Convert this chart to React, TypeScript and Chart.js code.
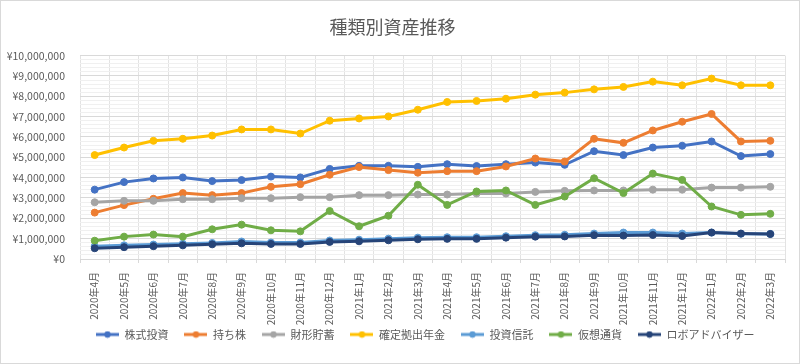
import React, { useEffect, useRef } from 'react';
import { Chart, registerables } from 'chart.js';

Chart.register(...registerables);

const categories = [
  '2020年4月', '2020年5月', '2020年6月', '2020年7月', '2020年8月', '2020年9月',
  '2020年10月', '2020年11月', '2020年12月', '2021年1月', '2021年2月', '2021年3月',
  '2021年4月', '2021年5月', '2021年6月', '2021年7月', '2021年8月', '2021年9月',
  '2021年10月', '2021年11月', '2021年12月', '2022年1月', '2022年2月', '2022年3月',
];

const seriesNames = ['株式投資', '持ち株', '財形貯蓄', '確定拠出年金', '投資信託', '仮想通貨', 'ロボアドバイザー'];
const seriesColors = ['#4472C4', '#ED7D31', '#A5A5A5', '#FFC000', '#5B9BD5', '#70AD47', '#264478'];

const stockValues = [3410000, 3780000, 3960000, 4010000, 3830000, 3880000, 4050000, 4010000, 4430000, 4580000, 4580000, 4530000, 4660000, 4570000, 4660000, 4740000, 4630000, 5300000, 5110000, 5480000, 5570000, 5780000, 5060000, 5160000];
const mochikabuValues = [2280000, 2650000, 2960000, 3240000, 3140000, 3240000, 3550000, 3680000, 4140000, 4520000, 4370000, 4240000, 4320000, 4320000, 4550000, 4940000, 4790000, 5910000, 5710000, 6320000, 6750000, 7130000, 5780000, 5810000];
const zaikeiValues = [2790000, 2860000, 2860000, 2940000, 2940000, 2990000, 2990000, 3040000, 3040000, 3140000, 3140000, 3170000, 3170000, 3220000, 3220000, 3300000, 3350000, 3370000, 3370000, 3410000, 3410000, 3510000, 3510000, 3550000];
const kakuteiValues = [5110000, 5480000, 5810000, 5910000, 6070000, 6370000, 6370000, 6170000, 6800000, 6910000, 7010000, 7340000, 7720000, 7770000, 7880000, 8080000, 8180000, 8340000, 8460000, 8720000, 8540000, 8870000, 8540000, 8540000];
const toushinValues = [630000, 670000, 710000, 750000, 790000, 860000, 810000, 810000, 910000, 950000, 1000000, 1050000, 1070000, 1070000, 1120000, 1170000, 1190000, 1250000, 1300000, 1300000, 1250000, 1300000, 1240000, 1230000];
const cryptoValues = [900000, 1100000, 1200000, 1100000, 1460000, 1690000, 1410000, 1360000, 2360000, 1610000, 2130000, 3650000, 2660000, 3320000, 3370000, 2660000, 3070000, 3970000, 3240000, 4200000, 3890000, 2580000, 2170000, 2220000];
const roboValues = [530000, 580000, 630000, 670000, 720000, 770000, 740000, 740000, 840000, 870000, 920000, 970000, 990000, 990000, 1050000, 1100000, 1110000, 1170000, 1150000, 1180000, 1130000, 1300000, 1250000, 1230000];

const seriesValues = [stockValues, mochikabuValues, zaikeiValues, kakuteiValues, toushinValues, cryptoValues, roboValues];

const FONT = '"Noto Sans CJK JP", "Noto Sans", sans-serif';
const TEXT = '#595959';

function makeMarker(color: string) {
  const c = document.createElement('canvas');
  c.width = 23;
  c.height = 8;
  const ctx = c.getContext('2d')!;
  ctx.strokeStyle = color;
  ctx.lineWidth = 3;
  ctx.beginPath();
  ctx.moveTo(0, 4);
  ctx.lineTo(23, 4);
  ctx.stroke();
  ctx.fillStyle = color;
  ctx.beginPath();
  ctx.arc(11.5, 4, 3.2, 0, Math.PI * 2);
  ctx.fill();
  return c;
}

const frame = {
  id: 'frame',
  afterDraw(chart: any) {
    const ctx = chart.ctx;
    ctx.save();
    ctx.strokeStyle = '#d9d9d9';
    ctx.lineWidth = 1;
    ctx.strokeRect(0.5, 0.5, chart.width - 1, chart.height - 1);
    ctx.restore();
  },
};

export default function App() {
  const ref = useRef<HTMLCanvasElement>(null);
  useEffect(() => {
    document.body.style.margin = '0';
    const markers = seriesColors.map(makeMarker);
    const chart = new Chart(ref.current!, {
      type: 'line',
      data: {
        labels: categories,
        datasets: seriesNames.map((name, i) => ({
          label: name,
          data: seriesValues[i],
          borderColor: seriesColors[i],
          backgroundColor: seriesColors[i],
          pointBackgroundColor: seriesColors[i],
          pointBorderColor: seriesColors[i],
          borderWidth: 3,
          pointRadius: 3.5,
          pointBorderWidth: 1,
          tension: 0,
          order: 6 - i,
        })),
      },
      options: {
        responsive: false,
        animation: false,
        layout: { padding: { left: 0, right: 15, top: 0, bottom: 14 } },
        plugins: {
          tooltip: { enabled: false },
          title: {
            display: true,
            text: '種類別資産推移',
            color: TEXT,
            font: { family: FONT, size: 18, weight: 'normal' },
            padding: { top: 16, bottom: 18 },
          },
          legend: {
            position: 'bottom',
            fullSize: false,
            align: 'start',
            labels: {
              usePointStyle: true,
              pointStyleWidth: 23,
              padding: 16,
              color: TEXT,
              font: { family: FONT, size: 11 },
              sort: (a: any, b: any) => a.datasetIndex - b.datasetIndex,
              generateLabels: (c: any) => {
                const items = (Chart.defaults.plugins.legend.labels as any).generateLabels(c);
                return items.map((it: any) => ({ ...it, pointStyle: markers[it.datasetIndex], fontColor: TEXT }));
              },
            },
          },
        },
        scales: {
          x: {
            offset: true,
            afterFit: (s: any) => {
              s.height = 54;
              s._computeLabelArea = () => undefined;
            },
            grid: { offset: true, color: '#e3e3e3', tickLength: 4, tickColor: '#d9d9d9' },
            border: { color: '#d9d9d9' },
            ticks: {
              autoSkip: false,
              maxRotation: 90,
              minRotation: 90,
              padding: 9,
              color: TEXT,
              font: { family: FONT, size: 10 },
            },
          },
          y: {
            min: 0,
            max: 10000000,
            afterFit: (s: any) => { s.width = 80; },
            border: { display: false },
            grid: {
              drawTicks: false,
              color: (ctx: any) => (ctx.tick && ctx.tick.value % 1000000 === 0 ? '#d9d9d9' : '#f0f0f0'),
            },
            ticks: {
              stepSize: 200000,
              autoSkip: false,
              padding: 15,
              color: TEXT,
              font: { family: FONT, size: 10.5 },
              callback: (v: any) => (Number(v) % 1000000 === 0 ? '¥' + Number(v).toLocaleString('en-US') : ''),
            },
          },
        },
      },
      plugins: [frame],
    });
    return () => chart.destroy();
  }, []);
  return <canvas ref={ref} width={800} height={364} style={{ display: 'block' }} />;
}
